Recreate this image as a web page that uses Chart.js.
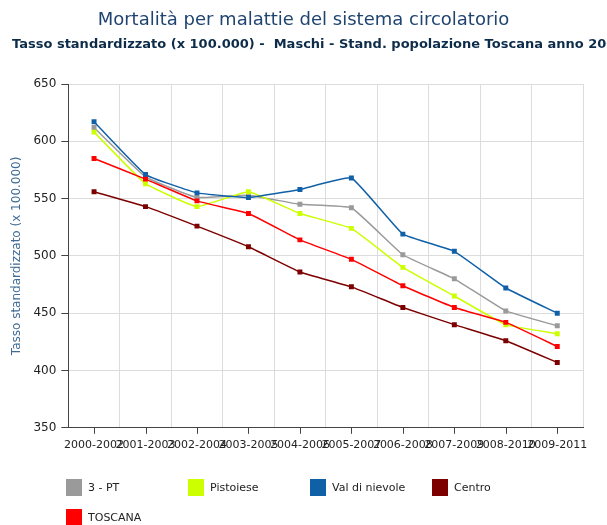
<!DOCTYPE html>
<html lang="it">
<head>
    <meta charset="UTF-8">
    <title>Mortalità per malattie del sistema circolatorio</title>
    <style>
        body { margin: 0; background: #fff; font-family: 'DejaVu Sans', sans-serif; }
        .wrap { position: relative; width: 607px; height: 525px; overflow: hidden; }
        .chart-box { position: absolute; left: 0; top: 0; width: 607px; height: 525px; }
        .titolo {
            position: absolute; left: 0; top: 8px; width: 607px; text-align: center;
            font-size: 18px; color: #1f4470; white-space: nowrap;
        }
        .sottotitolo {
            position: absolute; left: 12px; top: 36px; white-space: pre;
            font-size: 13px; font-weight: bold; color: #0d2c4a;
        }
        .legenda { position: absolute; left: 66px; top: 479px; width: 540px; }
        .voce {
            position: absolute; display: flex; align-items: center;
            font-size: 11px; color: #222; white-space: nowrap;
        }
        .voce span.box { width: 16px; height: 17px; margin-right: 6px; display: inline-block; }
    </style>
</head>
<body>
<div class="wrap">
    <div class="chart-box"><canvas id="grafico"></canvas></div>
    <div class="titolo">Mortalità per malattie del sistema circolatorio</div>
    <div class="sottotitolo">Tasso standardizzato (x 100.000) -  Maschi - Stand. popolazione Toscana anno 2000</div>
    <div class="legenda" id="legenda"></div>
</div>

<script src="https://cdn.jsdelivr.net/npm/chart.js"></script>
<script>
    // Dati
    const periodi = ['2000-2002', '2001-2003', '2002-2004', '2003-2005', '2004-2006',
                     '2005-2007', '2006-2008', '2007-2009', '2008-2010', '2009-2011'];
    const tre_pt      = [612, 569, 551, 553, 545, 542, 501, 480, 452, 439];
    const pistoiese   = [608, 563, 543, 556, 537, 524, 490, 465, 440, 432];
    const valNievole  = [617, 571, 555, 551, 558, 568, 519, 504, 472, 450];
    const centro      = [556, 543, 526, 508, 486, 473, 455, 440, 426, 407];
    const toscana     = [585, 567, 548, 537, 514, 497, 474, 455, 442, 421];
    const nomi   = ['3 - PT', 'Pistoiese', 'Val di nievole', 'Centro', 'TOSCANA'];
    const colori = ['#9a9a9a', '#ccff00', '#1060a8', '#7d0000', '#ff0000'];
    const yTicks = [350, 400, 450, 500, 550, 600, 650];

    const serie = [tre_pt, pistoiese, valNievole, centro, toscana];

    // tacche dell'asse x al centro delle categorie
    const tacchePlugin = {
        id: 'tacche',
        afterDraw(chart) {
            const x = chart.scales.x;
            const ctx = chart.ctx;
            ctx.save();
            ctx.strokeStyle = '#444';
            ctx.lineWidth = 1;
            periodi.forEach((p, i) => {
                const px = Math.round(x.getPixelForTick(i)) + 0.5;
                ctx.beginPath();
                ctx.moveTo(px, x.top);
                ctx.lineTo(px, x.top + 6);
                ctx.stroke();
            });
            ctx.restore();
        }
    };

    const grafico = new Chart(document.getElementById('grafico'), {
        type: 'line',
        data: {
            labels: periodi,
            datasets: serie.map((d, i) => ({
                label: nomi[i],
                data: d,
                borderColor: colori[i],
                backgroundColor: colori[i],
                borderWidth: 1.5,
                pointStyle: 'rect',
                pointRadius: 3.5,
                pointBorderWidth: 0,
                tension: 0.1,
                order: serie.length - i
            }))
        },
        options: {
            responsive: true,
            maintainAspectRatio: false,
            animation: false,
            layout: { padding: { top: 84, right: 24, bottom: 62, left: 10 } },
            plugins: {
                legend: { display: false },
                tooltip: { enabled: false }
            },
            scales: {
                x: {
                    offset: true,
                    grid: { color: '#dcdcdc', offset: true, drawTicks: false },
                    border: { color: '#444' },
                    ticks: {
                        autoSkip: false, maxRotation: 0, minRotation: 0, padding: 11,
                        color: '#222', font: { family: 'DejaVu Sans', size: 11 }
                    }
                },
                y: {
                    min: 350, max: 650,
                    afterBuildTicks: s => { s.ticks = yTicks.map(v => ({ value: v })); },
                    grid: { color: '#dcdcdc', tickLength: 7, tickColor: '#444' },
                    border: { color: '#444' },
                    ticks: { color: '#222', padding: 5, font: { family: 'DejaVu Sans', size: 12 } },
                    title: {
                        display: true, text: 'Tasso standardizzato (x 100.000)',
                        color: '#3f6c96', font: { family: 'DejaVu Sans', size: 12 },
                        padding: { top: 0, bottom: 4 }
                    }
                }
            }
        },
        plugins: [tacchePlugin]
    });

    // legenda in griglia come nell'originale
    const legenda = document.getElementById('legenda');
    nomi.forEach((n, i) => {
        const el = document.createElement('div');
        el.className = 'voce';
        el.style.left = (i % 4) * 122 + 'px';
        el.style.top = Math.floor(i / 4) * 30 + 'px';
        el.innerHTML = '<span class="box" style="background:' + colori[i] + '"></span>' + n;
        legenda.appendChild(el);
    });
</script>
</body>
</html>
